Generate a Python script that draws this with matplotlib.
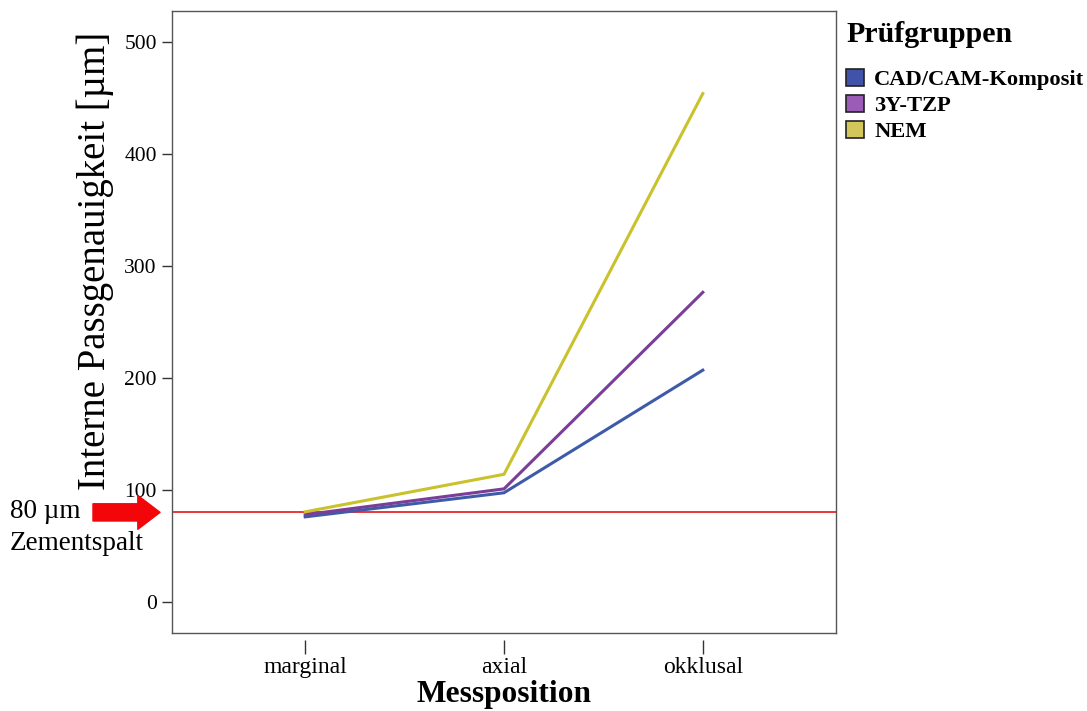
import matplotlib
matplotlib.use("Agg")
import matplotlib.pyplot as plt
from matplotlib.patches import Patch

plt.rcParams['font.family'] = ['Liberation Serif', 'DejaVu Serif']

positions = ["marginal", "axial", "okklusal"]
groups = ["CAD/CAM-Komposit", "3Y-TZP", "NEM"]
values = {
    "CAD/CAM-Komposit": [76, 97.5, 207],
    "3Y-TZP": [78, 101, 276.5],
    "NEM": [80.5, 114, 454],
}
line_colors = {"CAD/CAM-Komposit": "#3E5BAA", "3Y-TZP": "#7A3E98", "NEM": "#C9C22C"}
patch_colors = {"CAD/CAM-Komposit": "#4153A8", "3Y-TZP": "#9B5CB8", "NEM": "#D3C65A"}
yticks = [0, 100, 200, 300, 400, 500]
cement_gap = 80

W, H = 1087, 711
fig = plt.figure(figsize=(W / 100, H / 100), dpi=100)
ax = fig.add_axes([172 / W, 1 - 633 / H, (836 - 172) / W, (633 - 11) / H])

x = list(range(len(positions)))
for g in groups:
    ax.plot(x, values[g], color=line_colors[g], lw=2.2, solid_joinstyle='miter')

ax.axhline(cement_gap, color="#E8282A", lw=1.3, zorder=1)

ax.set_xlim(-0.67, 2.67)
ax.set_ylim(-27.7, 527.7)
ax.set_yticks(yticks)
ax.set_yticklabels([str(v) for v in yticks], fontsize=15.5)
ax.tick_params(axis='y', length=7, width=1, color="#333333", pad=4)
ax.set_xticks(x)
ax.tick_params(axis='x', length=0, labelbottom=False)
for s in ax.spines.values():
    s.set_color("#555555")
    s.set_linewidth(1.0)

sec = ax.secondary_xaxis(-0.012)
sec.set_xticks(x)
sec.set_xticklabels(positions, fontsize=17)
sec.tick_params(axis='x', length=10, width=1, color="#333333", pad=2)
sec.spines['bottom'].set_visible(False)
sec.set_xlabel("Messposition", fontsize=22.6, fontweight='bold', labelpad=1)

ax.set_ylabel("Interne Passgenauigkeit [µm]", fontsize=28)
ax.yaxis.set_label_coords(-0.087, 0.598)

# legend
fig.text(846 / W, 1 - 35 / H, "Prüfgruppen", fontsize=21.5, fontweight='bold', va='center', ha='left')
handles = [Patch(facecolor=patch_colors[g], edgecolor="#222222", lw=1.2) for g in groups]
fig.legend(handles, groups, loc='upper left', bbox_to_anchor=(846 / W, 1 - 69 / H),
           frameon=False, handlelength=0.8, handleheight=0.8,
           handletextpad=0.45, labelspacing=0.2, borderpad=0, borderaxespad=0,
           prop={'size': 16.2, 'weight': 'bold'})

# cement gap annotation
ax.annotate('', xy=(-0.018, cement_gap), xycoords=('axes fraction', 'data'),
            xytext=(-0.119, cement_gap), textcoords=('axes fraction', 'data'),
            arrowprops=dict(arrowstyle='simple,head_length=0.8,head_width=1.22,tail_width=0.62',
                            mutation_scale=20, color='#F2060A', shrinkA=0, shrinkB=0),
            annotation_clip=False)
fig.text(10 / W, 1 - 512 / H, "80 µm", fontsize=19.5, va='center', ha='left')
fig.text(10 / W, 1 - 543 / H, "Zementspalt", fontsize=19.5, va='center', ha='left')

fig.savefig("out.png", dpi=100)
